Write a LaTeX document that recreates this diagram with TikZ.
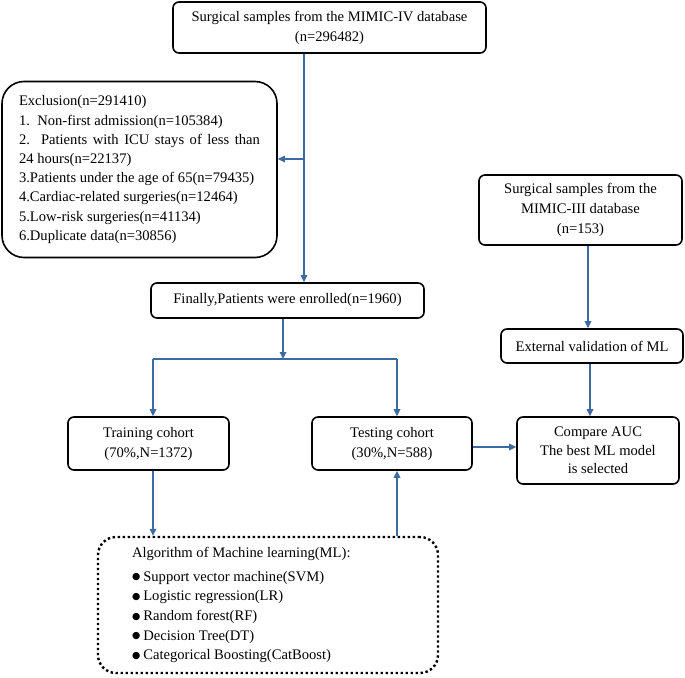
\documentclass[tikz,border=0pt]{standalone}
\usepackage{fontspec}
\setmainfont{Liberation Serif}
\newfontfamily\symfont{DejaVu Sans}
\usetikzlibrary{arrows.meta}
\definecolor{arrowblue}{RGB}{62,106,163}
\tikzset{
  box/.style={draw=black, line width=1.6pt, rounded corners=6pt, align=center, inner sep=0pt, font=\fontsize{14.6}{20}\selectfont},
  conn/.style={draw=arrowblue, line width=1.6pt},
  arr/.style={conn, -{Triangle[length=7pt,width=6.5pt]}},
}
\newcommand{\bul}{\raisebox{1.3pt}{\symfont\fontsize{9.5}{9.5}\selectfont ●}\hspace{3pt}}
\begin{document}
\begin{tikzpicture}[x=1pt,y=-1pt]
\useasboundingbox (0,0) rectangle (685,677);
\node[box, minimum width=313pt, minimum height=51pt] (top) at (329.5,27.5)
  {Surgical samples from the MIMIC-IV database\\(n=296482)};
\node[box, rounded corners=22pt, minimum width=275pt, minimum height=176pt] (excl) at (139.5,169.5)
  {\parbox{241pt}{\fontsize{14.6}{19.2}\selectfont
  Exclusion(n=291410)\\
  1.\ \ Non-first admission(n=105384)\\
  \makebox[241pt][s]{2.\ \ Patients with ICU stays of less than}\\
  24 hours(n=22137)\\
  3.Patients under the age of 65(n=79435)\\
  4.Cardiac-related surgeries(n=12464)\\
  5.Low-risk surgeries(n=41134)\\
  6.Duplicate data(n=30856)}};
\node[box, minimum width=203pt, minimum height=70pt] (m3) at (580.5,210)
  {Surgical samples from the\\MIMIC-III database\\(n=153)};
\node[box, minimum width=273pt, minimum height=35pt] (fin) at (287.5,300.5)
  {Finally,Patients were enrolled(n=1960)};
\node[box, minimum width=182pt, minimum height=34pt] (ext) at (592,346)
  {External validation of ML};
\node[box, minimum width=161pt, minimum height=53pt] (train) at (148.5,443.5)
  {Training cohort\\(70\%,N=1372)};
\node[box, minimum width=160pt, minimum height=53pt] (test) at (392,443.5)
  {Testing cohort\\(30\%,N=588)};
\node[box, minimum width=162pt, minimum height=67pt, font=\fontsize{14.6}{18.6}\selectfont] (cmp) at (598,450.5)
  {Compare AUC\\The best ML model\\is selected};
\node[box, rounded corners=18pt, line width=2.4pt, dash pattern=on 2.4pt off 2.6pt, minimum width=340pt, minimum height=136pt] (ml) at (268,605)
  {\parbox{272pt}{\raggedright\fontsize{14.6}{19.7}\selectfont
  Algorithm of Machine learning(ML):\\[4pt]
  \bul Support vector machine(SVM)\\
  \bul Logistic regression(LR)\\
  \bul Random forest(RF)\\
  \bul Decision Tree(DT)\\
  \bul Categorical Boosting(CatBoost)}};
% connectors
\coordinate (j1) at (304,159);
\draw[conn] (top.south -| j1) -- (j1);
\draw[arr] (j1) -- (excl.east |- j1);
\draw[arr] (j1) -- (j1 |- fin.north);
\coordinate (j2) at (283,359);
\coordinate (jl) at (153,359);
\coordinate (jr) at (397,359);
\draw[arr] (fin.south -| j2) -- (j2);
\draw[conn] (jl) -- (jr);
\draw[arr] (jl) -- (jl |- train.north);
\draw[arr] (jr) -- (jr |- test.north);
\draw[arr] (train.south -| jl) -- (jl |- ml.north);
\draw[arr] (ml.north -| jr) -- (jr |- test.south);
\draw[arr] ([yshift=-3.5pt]test.east) -- ([yshift=-3.5pt]test.east -| cmp.west);
\coordinate (c1) at (588,0);
\coordinate (c2) at (590,0);
\draw[arr] (m3.south -| c1) -- (c1 |- ext.north);
\draw[arr] (ext.south -| c2) -- (c2 |- cmp.north);
\end{tikzpicture}
\end{document}
